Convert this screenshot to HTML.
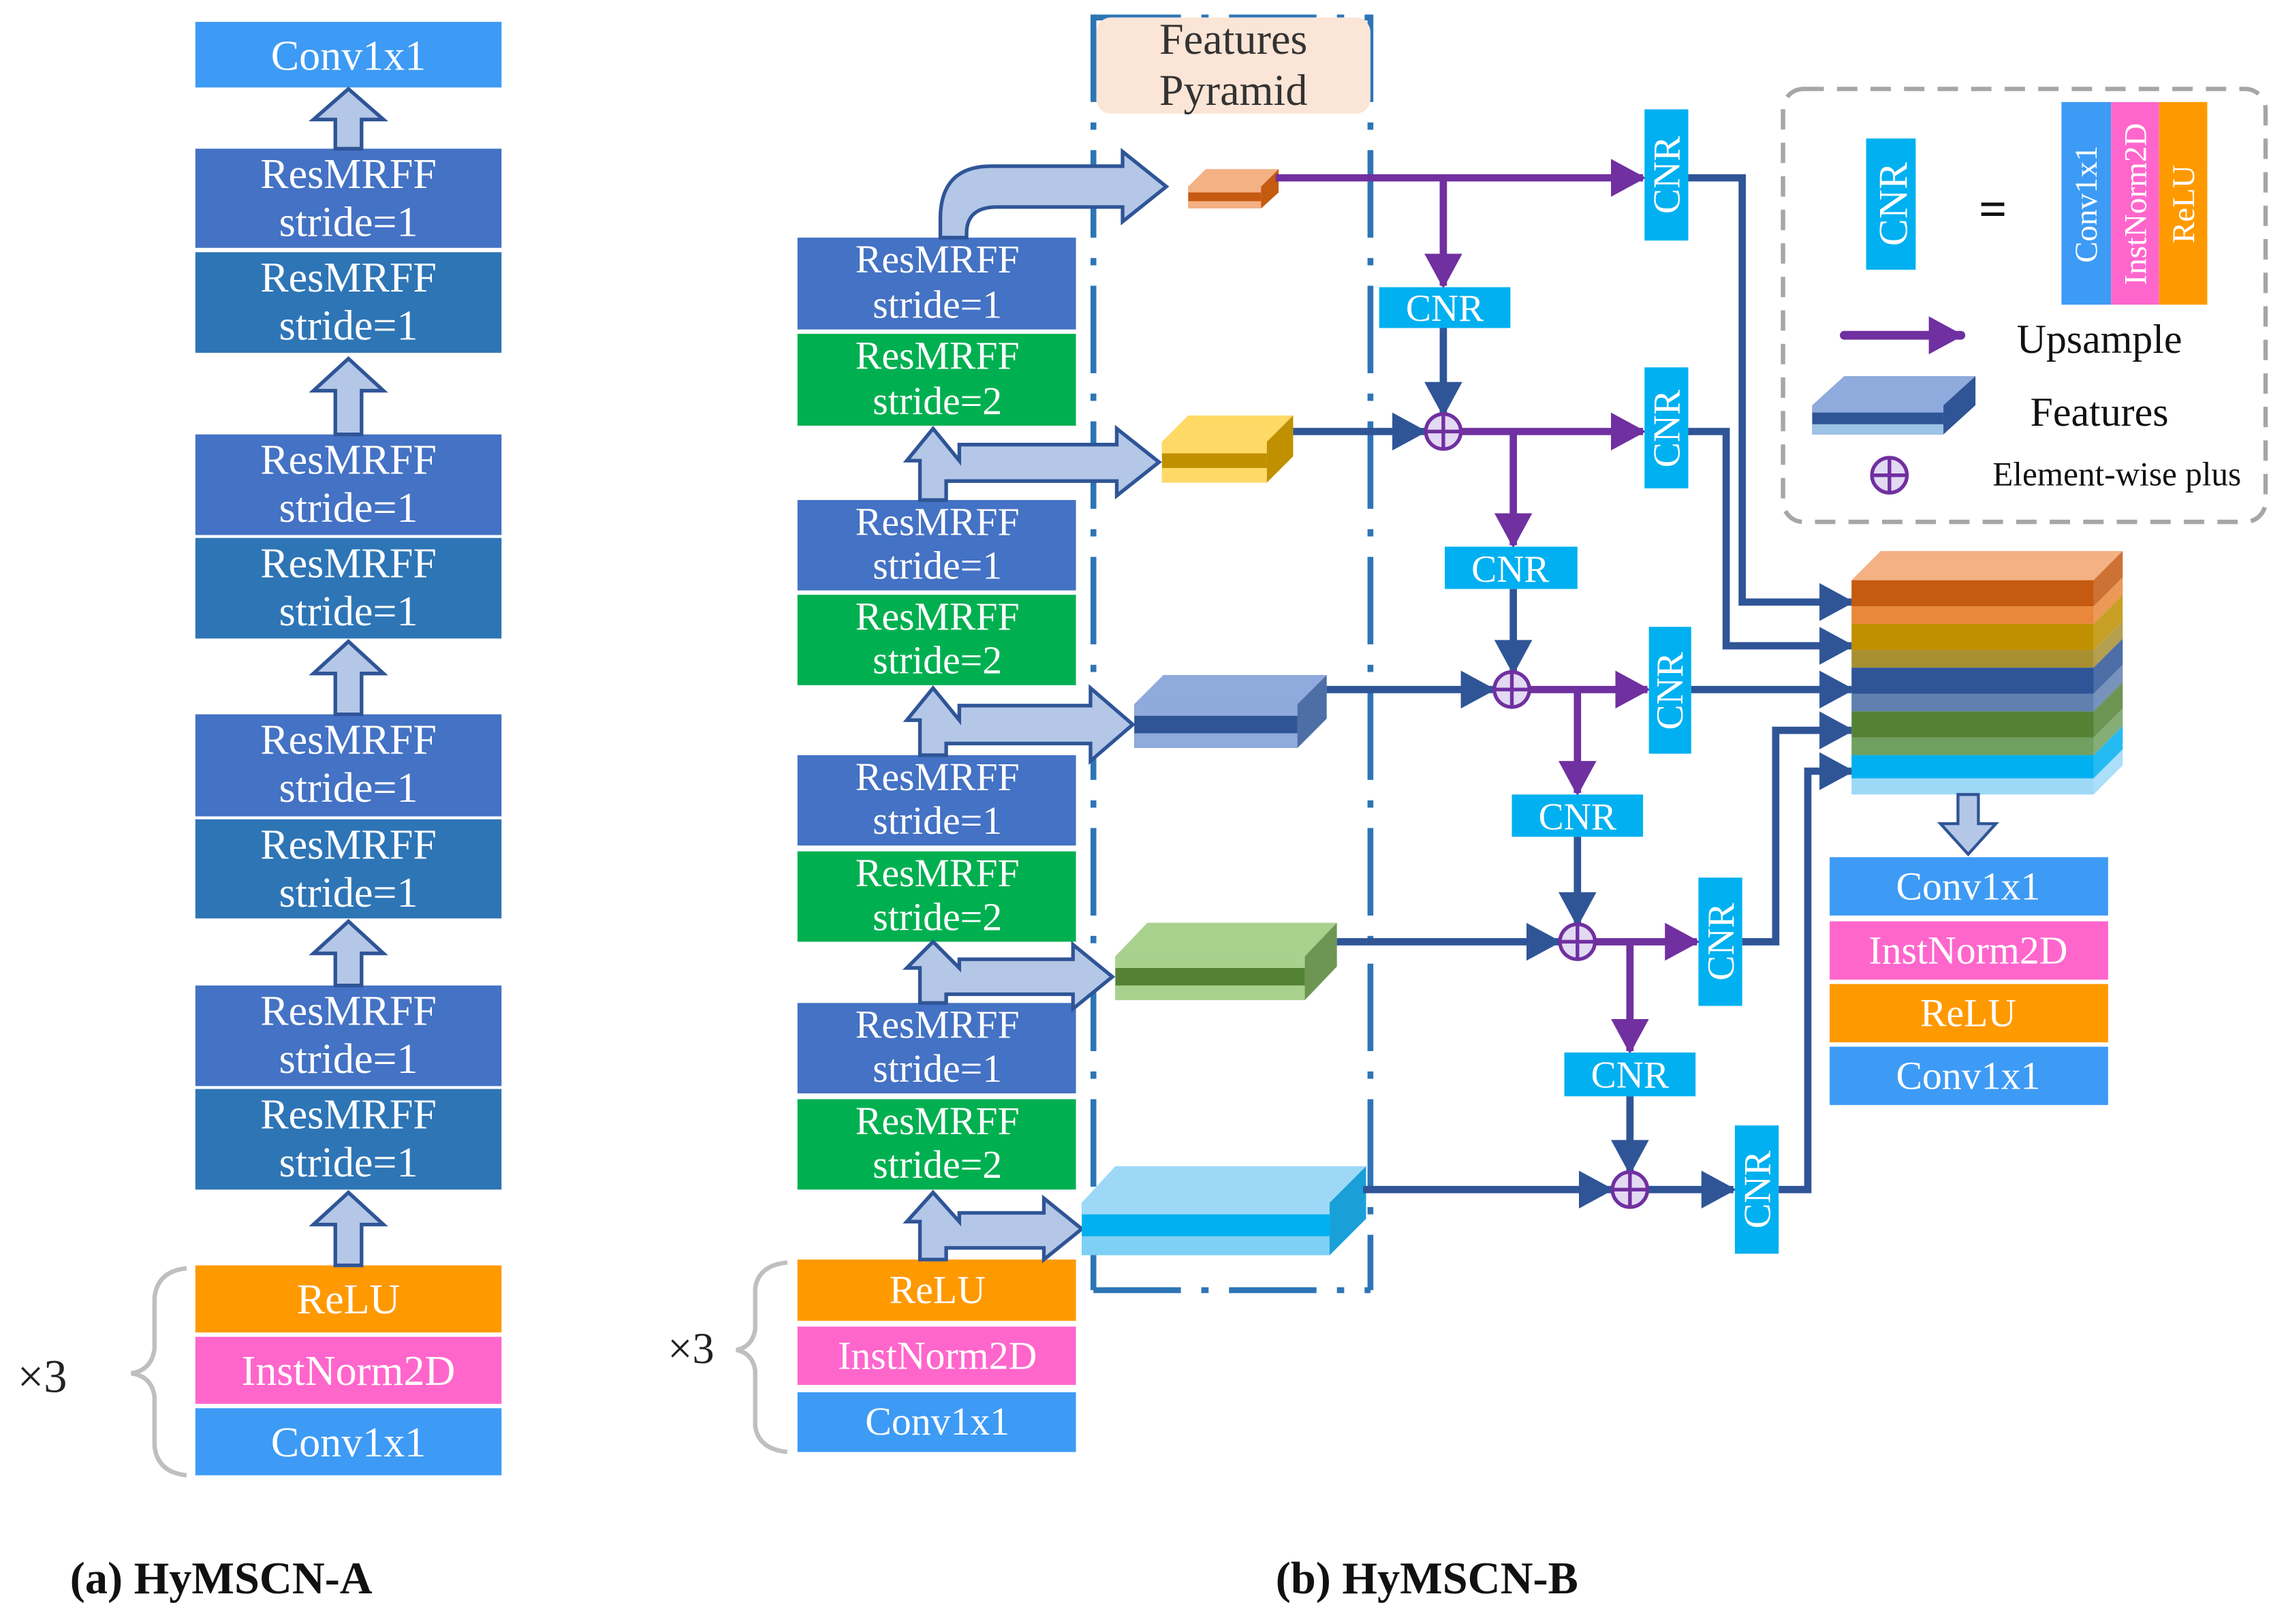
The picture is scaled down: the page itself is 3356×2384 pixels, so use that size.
<!DOCTYPE html>
<html><head><meta charset="utf-8"><style>
html,body{margin:0;padding:0;background:#fff;}
svg{display:block;}
text{font-family:"Liberation Serif",serif;}
</style></head><body>
<svg width="3356" height="2384" viewBox="0 0 1568 1114" preserveAspectRatio="none" xmlns="http://www.w3.org/2000/svg">
<defs>
<marker id="mb" markerUnits="userSpaceOnUse" markerWidth="24" markerHeight="26" refX="22" refY="13" orient="auto"><path d="M0,0 L24,13 L0,26 Z" fill="#2f5597"/></marker>
<marker id="mp" markerUnits="userSpaceOnUse" markerWidth="24" markerHeight="26" refX="22" refY="13" orient="auto"><path d="M0,0 L24,13 L0,26 Z" fill="#7030a0"/></marker>
</defs>
<rect width="1568" height="1114" fill="#fff"/>
<g font-size="29" fill="#fff" text-anchor="middle">
<rect x="134" y="15" width="210" height="45" fill="#3d9bf5"/><text x="239" y="48">Conv1x1</text>
<rect x="134" y="102" width="210" height="68" fill="#4472c4"/><text x="239" y="129">ResMRFF</text><text x="239" y="162">stride=1</text>
<rect x="134" y="173" width="210" height="69" fill="#2e75b6"/><text x="239" y="200">ResMRFF</text><text x="239" y="233">stride=1</text>
<rect x="134" y="298" width="210" height="69" fill="#4472c4"/><text x="239" y="325">ResMRFF</text><text x="239" y="358">stride=1</text>
<rect x="134" y="369" width="210" height="69" fill="#2e75b6"/><text x="239" y="396">ResMRFF</text><text x="239" y="429">stride=1</text>
<rect x="134" y="490" width="210" height="70" fill="#4472c4"/><text x="239" y="517">ResMRFF</text><text x="239" y="550">stride=1</text>
<rect x="134" y="562" width="210" height="68" fill="#2e75b6"/><text x="239" y="589">ResMRFF</text><text x="239" y="622">stride=1</text>
<rect x="134" y="676" width="210" height="69" fill="#4472c4"/><text x="239" y="703">ResMRFF</text><text x="239" y="736">stride=1</text>
<rect x="134" y="747" width="210" height="69" fill="#2e75b6"/><text x="239" y="774">ResMRFF</text><text x="239" y="807">stride=1</text>
<rect x="134" y="868" width="210" height="46" fill="#ff9900"/><text x="239" y="901">ReLU</text>
<rect x="134" y="917" width="210" height="46" fill="#ff66cc"/><text x="239" y="950">InstNorm2D</text>
<rect x="134" y="966" width="210" height="46" fill="#3d9bf5"/><text x="239" y="999">Conv1x1</text>
</g>
<g fill="#b4c7e7" stroke="#2f5597" stroke-width="2.5">
<polygon points="230,102 230,82 215,82 239,61 263,82 248,82 248,102"/>
<polygon points="230,298 230,268 215,268 239,246 263,268 248,268 248,298"/>
<polygon points="230,490 230,462 215,462 239,440 263,462 248,462 248,490"/>
<polygon points="230,676 230,654 215,654 239,632 263,654 248,654 248,676"/>
<polygon points="230,868 230,840 215,840 239,818 263,840 248,840 248,868"/>
</g>
<path d="M128,870 Q108,872 106,890 L106,925 Q104,940 90,942 Q104,944 106,958 L106,992 Q108,1010 128,1012" fill="none" stroke="#bfbfbf" stroke-width="3"/>
<text x="12" y="955" font-size="32" fill="#222">×3</text>
<text x="48" y="1093" font-size="31" font-weight="bold" fill="#111">(a) HyMSCN-A</text>
<text x="875" y="1093" font-size="31" font-weight="bold" fill="#111">(b) HyMSCN-B</text>

<g stroke="#2e75b6" stroke-width="4" fill="none" stroke-dasharray="60,14,5,14">
<line x1="750" y1="10" x2="750" y2="885"/>
<line x1="940" y1="10" x2="940" y2="885"/>
<line x1="750" y1="885" x2="940" y2="885"/>
<line x1="750" y1="12" x2="940" y2="12"/>
</g>
<rect x="752" y="12" width="188" height="66" rx="10" fill="#fbe5d6"/>
<text x="846" y="37" font-size="30" fill="#333" text-anchor="middle">Features</text>
<text x="846" y="72" font-size="30" fill="#333" text-anchor="middle">Pyramid</text>

<g font-size="27" fill="#fff" text-anchor="middle">
<rect x="547" y="163" width="191" height="63" fill="#4472c4"/><text x="643" y="187">ResMRFF</text><text x="643" y="218">stride=1</text>
<rect x="547" y="229" width="191" height="63" fill="#00b050"/><text x="643" y="253">ResMRFF</text><text x="643" y="284">stride=2</text>
<rect x="547" y="343" width="191" height="62" fill="#4472c4"/><text x="643" y="367">ResMRFF</text><text x="643" y="397">stride=1</text>
<rect x="547" y="408" width="191" height="62" fill="#00b050"/><text x="643" y="432">ResMRFF</text><text x="643" y="462">stride=2</text>
<rect x="547" y="518" width="191" height="62" fill="#4472c4"/><text x="643" y="542">ResMRFF</text><text x="643" y="572">stride=1</text>
<rect x="547" y="584" width="191" height="62" fill="#00b050"/><text x="643" y="608">ResMRFF</text><text x="643" y="638">stride=2</text>
<rect x="547" y="688" width="191" height="62" fill="#4472c4"/><text x="643" y="712">ResMRFF</text><text x="643" y="742">stride=1</text>
<rect x="547" y="754" width="191" height="62" fill="#00b050"/><text x="643" y="778">ResMRFF</text><text x="643" y="808">stride=2</text>
<rect x="547" y="864" width="191" height="42" fill="#ff9900"/><text x="643" y="894">ReLU</text>
<rect x="547" y="910" width="191" height="40" fill="#ff66cc"/><text x="643" y="939">InstNorm2D</text>
<rect x="547" y="955" width="191" height="41" fill="#3d9bf5"/><text x="643" y="984">Conv1x1</text>
</g>
<path d="M540,866 Q520,868 518,884 L518,912 Q516,924 505,926 Q516,928 518,940 L518,978 Q520,994 540,996" fill="none" stroke="#bfbfbf" stroke-width="3"/>
<text x="458" y="935" font-size="30" fill="#222">×3</text>

<g fill="#b4c7e7" stroke="#2f5597" stroke-width="2.5">
<path d="M645,163 L645,150 Q645,114 680,114 L770,114 L770,104 L800,128 L770,152 L770,142 L684,142 Q663,142 663,160 L663,163 Z"/>
<polygon points="631,343 631,316 622,316 640,294 658,316 658,305 766,305 766,294 795,317 766,340 766,330 649,330 649,343"/>
<polygon points="631,518 631,494 622,494 640,472 658,494 658,484 748,484 748,472 777,497 748,522 748,510 649,510 649,518"/>
<polygon points="631,688 631,664 622,664 640,646 658,664 658,658 736,658 736,648 763,670 736,692 736,682 649,682 649,688"/>
<polygon points="631,864 631,838 622,838 640,818 658,838 658,832 716,832 716,822 742,843 716,864 716,856 649,856 649,864"/>
</g>

<g>
<polygon points="815,128 827,116 877,116 865,128" fill="#f4b183"/><rect x="815" y="128" width="50" height="14" fill="#c55a11"/><rect x="815" y="128" width="50" height="4" fill="#f4b183"/><rect x="815" y="138" width="50" height="5" fill="#f4b183"/><polygon points="865,128 877,116 877,132 865,143" fill="#c55a11"/>
<polygon points="797,303 815,285 887,285 869,303" fill="#ffd966"/><rect x="797" y="303" width="72" height="28" fill="#bf9000"/><rect x="797" y="303" width="72" height="8" fill="#ffd966"/><rect x="797" y="321" width="72" height="10" fill="#ffd966"/><polygon points="869,303 887,285 887,313 869,331" fill="#bf9000"/>
<polygon points="778,483 798,463 910,463 890,483" fill="#8faadc"/><rect x="778" y="483" width="112" height="30" fill="#2f5597"/><rect x="778" y="483" width="112" height="8" fill="#8faadc"/><rect x="778" y="503" width="112" height="10" fill="#8faadc"/><polygon points="890,483 910,463 910,493 890,513" fill="#2f5597" opacity="0.85"/>
<polygon points="765,656 787,633 917,633 895,656" fill="#a9d18e"/><rect x="765" y="656" width="130" height="30" fill="#548235"/><rect x="765" y="656" width="130" height="8" fill="#a9d18e"/><rect x="765" y="676" width="130" height="10" fill="#a9d18e"/><polygon points="895,656 917,633 917,663 895,686" fill="#548235" opacity="0.85"/>
<polygon points="742,825 765,800 937,800 912,825" fill="#9dd9f7"/><rect x="742" y="825" width="170" height="36" fill="#00b0f0"/><rect x="742" y="825" width="170" height="8" fill="#9dd9f7"/><rect x="742" y="848" width="170" height="13" fill="#7fd0f5"/><polygon points="912,825 937,800 937,836 912,861" fill="#1aa0d8"/>
</g>

<g fill="none" stroke-width="5">
<line x1="875" y1="122" x2="1127" y2="122" stroke="#7030a0" marker-end="url(#mp)"/>
<line x1="990" y1="122" x2="990" y2="196" stroke="#7030a0" marker-end="url(#mp)"/>
<line x1="990" y1="225" x2="990" y2="284" stroke="#2f5597" marker-end="url(#mb)"/>
<line x1="887" y1="296" x2="977" y2="296" stroke="#2f5597" marker-end="url(#mb)"/>
<line x1="1002" y1="296" x2="1127" y2="296" stroke="#7030a0" marker-end="url(#mp)"/>
<line x1="1038" y1="296" x2="1038" y2="374" stroke="#7030a0" marker-end="url(#mp)"/>
<line x1="1038" y1="404" x2="1038" y2="461" stroke="#2f5597" marker-end="url(#mb)"/>
<line x1="910" y1="473" x2="1024" y2="473" stroke="#2f5597" marker-end="url(#mb)"/>
<line x1="1049" y1="473" x2="1130" y2="473" stroke="#7030a0" marker-end="url(#mp)"/>
<line x1="1082" y1="473" x2="1082" y2="544" stroke="#7030a0" marker-end="url(#mp)"/>
<line x1="1082" y1="574" x2="1082" y2="634" stroke="#2f5597" marker-end="url(#mb)"/>
<line x1="917" y1="646" x2="1069" y2="646" stroke="#2f5597" marker-end="url(#mb)"/>
<line x1="1094" y1="646" x2="1164" y2="646" stroke="#7030a0" marker-end="url(#mp)"/>
<line x1="1118" y1="646" x2="1118" y2="721" stroke="#7030a0" marker-end="url(#mp)"/>
<line x1="1118" y1="752" x2="1118" y2="804" stroke="#2f5597" marker-end="url(#mb)"/>
<line x1="935" y1="816" x2="1105" y2="816" stroke="#2f5597" marker-end="url(#mb)"/>
<line x1="1130" y1="816" x2="1189" y2="816" stroke="#2f5597" marker-end="url(#mb)"/>
<polyline points="1158,122 1195,122 1195,413 1270,413" stroke="#2f5597" marker-end="url(#mb)"/>
<polyline points="1158,296 1184,296 1184,443 1270,443" stroke="#2f5597" marker-end="url(#mb)"/>
<polyline points="1160,473 1270,473" stroke="#2f5597" marker-end="url(#mb)"/>
<polyline points="1195,646 1218,646 1218,501 1270,501" stroke="#2f5597" marker-end="url(#mb)"/>
<polyline points="1220,816 1240,816 1240,529 1270,529" stroke="#2f5597" marker-end="url(#mb)"/>
</g>
<g fill="#e2d9f3" stroke="#7030a0" stroke-width="2.5">
<circle cx="990" cy="296" r="12"/><path d="M978,296 H1002 M990,284 V308"/>
<circle cx="1037" cy="473" r="12"/><path d="M1025,473 H1049 M1037,461 V485"/>
<circle cx="1082" cy="646" r="12"/><path d="M1070,646 H1094 M1082,634 V658"/>
<circle cx="1118" cy="816" r="12"/><path d="M1106,816 H1130 M1118,804 V828"/>
</g>

<g fill="#00b0f0">
<rect x="946" y="197" width="90" height="28"/><rect x="991" y="375" width="91" height="29"/>
<rect x="1037" y="545" width="90" height="29"/><rect x="1073" y="722" width="90" height="30"/>
<rect x="1128" y="75" width="30" height="90"/><rect x="1128" y="252" width="30" height="83"/>
<rect x="1131" y="430" width="29" height="87"/><rect x="1165" y="602" width="30" height="88"/>
<rect x="1190" y="772" width="30" height="88"/>
</g>
<g font-size="26" fill="#fff" text-anchor="middle">
<text x="991" y="220">CNR</text><text x="1036" y="399">CNR</text><text x="1082" y="569">CNR</text><text x="1118" y="746">CNR</text>
<text transform="translate(1152,120) rotate(-90)">CNR</text>
<text transform="translate(1152,294) rotate(-90)">CNR</text>
<text transform="translate(1154,474) rotate(-90)">CNR</text>
<text transform="translate(1189,646) rotate(-90)">CNR</text>
<text transform="translate(1214,816) rotate(-90)">CNR</text>
</g>

<g>
<polygon points="1270,398 1290,378 1456,378 1436,398" fill="#f4b183"/>
<rect x="1270" y="398" width="166" height="18" fill="#c55a11"/>
<rect x="1270" y="416" width="166" height="12" fill="#e9883a"/>
<rect x="1270" y="428" width="166" height="18" fill="#bf9000"/>
<rect x="1270" y="446" width="166" height="12" fill="#a89030"/>
<rect x="1270" y="458" width="166" height="18" fill="#2f5597"/>
<rect x="1270" y="476" width="166" height="12" fill="#6080b0"/>
<rect x="1270" y="488" width="166" height="18" fill="#548235"/>
<rect x="1270" y="506" width="166" height="12" fill="#70a060"/>
<rect x="1270" y="518" width="166" height="16" fill="#00b0f0"/>
<rect x="1270" y="534" width="166" height="11" fill="#9dd9f7"/>
<g opacity="0.85">
<polygon points="1436,398 1456,378 1456,396 1436,416" fill="#c55a11"/>
<polygon points="1436,416 1456,396 1456,408 1436,428" fill="#e9883a"/>
<polygon points="1436,428 1456,408 1456,426 1436,446" fill="#bf9000"/>
<polygon points="1436,446 1456,426 1456,438 1436,458" fill="#a89030"/>
<polygon points="1436,458 1456,438 1456,456 1436,476" fill="#2f5597"/>
<polygon points="1436,476 1456,456 1456,468 1436,488" fill="#6080b0"/>
<polygon points="1436,488 1456,468 1456,486 1436,506" fill="#548235"/>
<polygon points="1436,506 1456,486 1456,498 1436,518" fill="#70a060"/>
<polygon points="1436,518 1456,498 1456,514 1436,534" fill="#00b0f0"/>
<polygon points="1436,534 1456,514 1456,525 1436,545" fill="#9dd9f7"/>
</g>
</g>
<polygon points="1343,545 1343,565 1331,565 1350,586 1369,565 1357,565 1357,545" fill="#b4c7e7" stroke="#2f5597" stroke-width="2"/>
<g font-size="27" fill="#fff" text-anchor="middle">
<rect x="1255" y="588" width="191" height="40" fill="#3d9bf5"/><text x="1350" y="617">Conv1x1</text>
<rect x="1255" y="632" width="191" height="40" fill="#ff66cc"/><text x="1350" y="661">InstNorm2D</text>
<rect x="1255" y="675" width="191" height="40" fill="#ff9900"/><text x="1350" y="704">ReLU</text>
<rect x="1255" y="718" width="191" height="40" fill="#3d9bf5"/><text x="1350" y="747">Conv1x1</text>
</g>

<rect x="1223" y="61" width="331" height="297" rx="14" fill="none" stroke="#a6a6a6" stroke-width="3" stroke-dasharray="14,9"/>
<rect x="1280" y="95" width="34" height="90" fill="#00b0f0"/>
<text transform="translate(1308,140) rotate(-90)" font-size="28" fill="#fff" text-anchor="middle">CNR</text>
<text x="1367" y="155" font-size="34" font-weight="bold" fill="#111" text-anchor="middle">=</text>
<rect x="1414" y="70" width="34" height="139" fill="#3d9bf5"/>
<rect x="1448" y="70" width="33" height="139" fill="#ff66cc"/>
<rect x="1481" y="70" width="33" height="139" fill="#ff9900"/>
<g font-size="22" fill="#fff" text-anchor="middle">
<text transform="translate(1438,140) rotate(-90)">Conv1x1</text>
<text transform="translate(1472,140) rotate(-90)">InstNorm2D</text>
<text transform="translate(1505,140) rotate(-90)">ReLU</text>
</g>
<line x1="1265" y1="230" x2="1345" y2="230" stroke="#7030a0" stroke-width="6" stroke-linecap="round" marker-end="url(#mp)"/>
<text x="1440" y="242" font-size="28" fill="#111" text-anchor="middle">Upsample</text>
<polygon points="1243,278 1265,258 1355,258 1333,278" fill="#8faadc"/>
<rect x="1243" y="278" width="90" height="20" fill="#2f5597"/><rect x="1243" y="278" width="90" height="5" fill="#8faadc"/><rect x="1243" y="291" width="90" height="7" fill="#9dc3e6"/>
<polygon points="1333,278 1355,258 1355,278 1333,298" fill="#2f5597"/>
<text x="1440" y="292" font-size="28" fill="#111" text-anchor="middle">Features</text>
<circle cx="1296" cy="326" r="12" fill="#e2d9f3" stroke="#7030a0" stroke-width="2.5"/>
<path d="M1284,326 H1308 M1296,314 V338" stroke="#7030a0" stroke-width="2.5"/>
<text x="1452" y="333" font-size="23" fill="#111" text-anchor="middle">Element-wise plus</text>
</svg>
</body></html>
